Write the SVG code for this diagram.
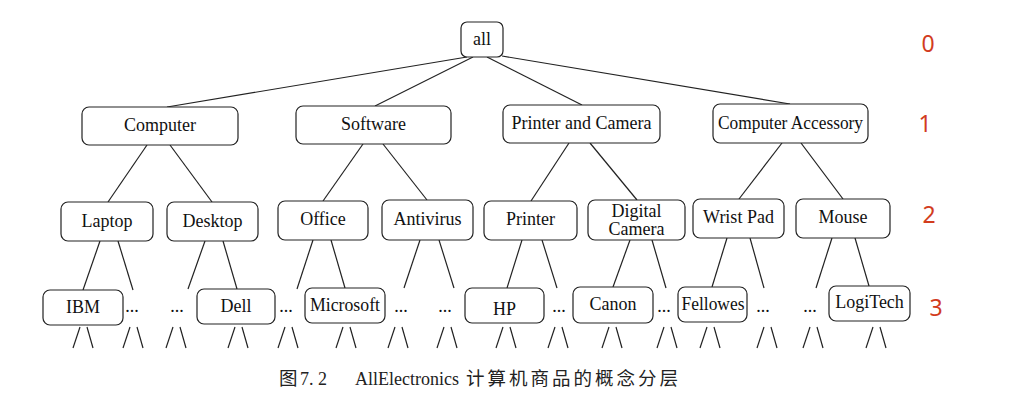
<svg xmlns="http://www.w3.org/2000/svg" width="1034" height="404" viewBox="0 0 1034 404">
<style>
.box{fill:#fff;stroke:#222;stroke-width:1.2}
.lbl{font-family:"Liberation Serif","Times New Roman",serif;font-size:18px;fill:#111;text-anchor:middle}
.dots{font-family:"Liberation Serif","Times New Roman",serif;font-size:18px;fill:#111;text-anchor:middle}
.lvl{font-family:"Noto Sans","Liberation Sans",sans-serif;font-size:23px;fill:#d23c1e;text-anchor:middle}
.cap{font-family:"Liberation Serif","Noto Sans CJK SC",serif;font-size:18px;fill:#222}
.cjk{font-family:"Noto Sans CJK SC",sans-serif;font-size:18.5px;letter-spacing:3px}
#connectors line{stroke:#222;stroke-width:1.2;fill:none}
</style>
<rect width="1034" height="404" fill="#fff"/>
<g id="connectors">
<line x1="467" y1="57" x2="167" y2="107"/>
<line x1="473" y1="57" x2="375" y2="106"/>
<line x1="487" y1="57" x2="582" y2="105"/>
<line x1="502" y1="56" x2="790" y2="104"/>
<line x1="147" y1="145" x2="108" y2="202"/>
<line x1="170" y1="145" x2="212" y2="202"/>
<line x1="363" y1="144" x2="323" y2="201"/>
<line x1="383" y1="144" x2="427" y2="200"/>
<line x1="569" y1="143" x2="531" y2="201"/>
<line x1="590" y1="143" x2="637" y2="200"/>
<line x1="782" y1="143" x2="739" y2="199"/>
<line x1="801" y1="143" x2="843" y2="199"/>
<line x1="100" y1="241" x2="83" y2="290"/>
<line x1="118" y1="241" x2="133" y2="290"/>
<line x1="205" y1="241" x2="188" y2="289"/>
<line x1="223" y1="241" x2="237" y2="289"/>
<line x1="313" y1="240" x2="297" y2="289"/>
<line x1="331" y1="240" x2="345" y2="288"/>
<line x1="420" y1="240" x2="404" y2="288"/>
<line x1="439" y1="240" x2="454" y2="288"/>
<line x1="522" y1="240" x2="507" y2="288"/>
<line x1="542" y1="240" x2="557" y2="288"/>
<line x1="630" y1="240" x2="613" y2="287"/>
<line x1="652" y1="240" x2="666" y2="288"/>
<line x1="727" y1="238" x2="712" y2="287"/>
<line x1="750" y1="238" x2="764" y2="288"/>
<line x1="832" y1="238" x2="816" y2="288"/>
<line x1="855" y1="238" x2="869" y2="286"/>
<line x1="80" y1="327" x2="73" y2="348"/><line x1="87" y1="327" x2="93" y2="348"/>
<line x1="130" y1="327" x2="123" y2="348"/><line x1="137" y1="327" x2="143" y2="348"/>
<line x1="173" y1="327" x2="166" y2="348"/><line x1="180" y1="327" x2="186" y2="348"/>
<line x1="235" y1="327" x2="228" y2="348"/><line x1="242" y1="327" x2="248" y2="348"/>
<line x1="285" y1="327" x2="278" y2="348"/><line x1="292" y1="327" x2="298" y2="348"/>
<line x1="343" y1="327" x2="336" y2="348"/><line x1="350" y1="327" x2="356" y2="348"/>
<line x1="395" y1="327" x2="388" y2="348"/><line x1="402" y1="327" x2="408" y2="348"/>
<line x1="444" y1="327" x2="437" y2="348"/><line x1="451" y1="327" x2="457" y2="348"/>
<line x1="503" y1="327" x2="496" y2="348"/><line x1="510" y1="327" x2="516" y2="348"/>
<line x1="555" y1="327" x2="548" y2="348"/><line x1="562" y1="327" x2="568" y2="348"/>
<line x1="609" y1="327" x2="602" y2="348"/><line x1="616" y1="327" x2="622" y2="348"/>
<line x1="664" y1="327" x2="657" y2="348"/><line x1="671" y1="327" x2="677" y2="348"/>
<line x1="707" y1="327" x2="700" y2="348"/><line x1="714" y1="327" x2="720" y2="348"/>
<line x1="764" y1="327" x2="757" y2="348"/><line x1="771" y1="327" x2="777" y2="348"/>
<line x1="810" y1="327" x2="803" y2="348"/><line x1="817" y1="327" x2="823" y2="348"/>
<line x1="873" y1="327" x2="866" y2="348"/><line x1="880" y1="327" x2="886" y2="348"/>
</g>
<g id="n-all"><rect class="box" x="461" y="22" width="42" height="35" rx="6"/><text class="lbl" x="482" y="45">all</text></g>
<g id="n-computer"><rect class="box" x="82" y="107" width="156" height="38" rx="7"/><text class="lbl" x="160" y="131">Computer</text></g>
<g id="n-software"><rect class="box" x="296" y="106" width="155" height="38" rx="7"/><text class="lbl" x="373.5" y="130">Software</text></g>
<g id="n-printer-camera"><rect class="box" x="503" y="105" width="157" height="38" rx="7"/><text class="lbl" x="581.5" y="129">Printer and Camera</text></g>
<g id="n-computer-accessory"><rect class="box" x="713" y="104" width="155" height="39" rx="7"/><text class="lbl" x="790.5" y="129" textLength="145" lengthAdjust="spacingAndGlyphs">Computer Accessory</text></g>
<g id="n-laptop"><rect class="box" x="61" y="202" width="92" height="39" rx="7"/><text class="lbl" x="107" y="227">Laptop</text></g>
<g id="n-desktop"><rect class="box" x="167" y="202" width="91" height="39" rx="7"/><text class="lbl" x="212.5" y="227">Desktop</text></g>
<g id="n-office"><rect class="box" x="278" y="201" width="90" height="39" rx="7"/><text class="lbl" x="323" y="225">Office</text></g>
<g id="n-antivirus"><rect class="box" x="382" y="200" width="91" height="40" rx="7"/><text class="lbl" x="427.5" y="225">Antivirus</text></g>
<g id="n-printer"><rect class="box" x="484" y="201" width="93" height="39" rx="7"/><text class="lbl" x="530.5" y="225">Printer</text></g>
<g id="n-digital-camera"><rect class="box" x="588" y="200" width="97" height="40" rx="7"/><text class="lbl" x="636.5" y="217">Digital</text><text class="lbl" x="636.5" y="235">Camera</text></g>
<g id="n-wrist-pad"><rect class="box" x="693" y="199" width="91" height="39" rx="7"/><text class="lbl" x="738.5" y="223">Wrist Pad</text></g>
<g id="n-mouse"><rect class="box" x="796" y="199" width="94" height="39" rx="7"/><text class="lbl" x="843" y="223">Mouse</text></g>
<g id="n-ibm"><rect class="box" x="43" y="290" width="80" height="35" rx="7"/><text class="lbl" x="83" y="313">IBM</text></g>
<g id="n-dell"><rect class="box" x="197" y="289" width="78" height="35" rx="7"/><text class="lbl" x="236" y="312">Dell</text></g>
<g id="n-microsoft"><rect class="box" x="305" y="288" width="80" height="35" rx="7"/><text class="lbl" x="345" y="311" textLength="70" lengthAdjust="spacingAndGlyphs">Microsoft</text></g>
<g id="n-hp"><rect class="box" x="465" y="288" width="79" height="35" rx="7"/><text class="lbl" x="504.5" y="315">HP</text></g>
<g id="n-canon"><rect class="box" x="573" y="287" width="80" height="36" rx="7"/><text class="lbl" x="613" y="310">Canon</text></g>
<g id="n-fellowes"><rect class="box" x="678" y="287" width="69" height="35" rx="7"/><text class="lbl" x="713" y="310" textLength="63" lengthAdjust="spacingAndGlyphs">Fellowes</text></g>
<g id="n-logitech"><rect class="box" x="829" y="286" width="81" height="35" rx="7"/><text class="lbl" x="869.5" y="308">LogiTech</text></g>
<g id="ellipses">
<text class="dots" x="132" y="312">...</text>
<text class="dots" x="177" y="312">...</text>
<text class="dots" x="286" y="312">...</text>
<text class="dots" x="401" y="312">...</text>
<text class="dots" x="445" y="312">...</text>
<text class="dots" x="559" y="312">...</text>
<text class="dots" x="664" y="312">...</text>
<text class="dots" x="763" y="312">...</text>
<text class="dots" x="810" y="312">...</text>
</g>
<g id="levels">
<text class="lvl" x="928" y="52">0</text>
<text class="lvl" x="925" y="132">1</text>
<text class="lvl" x="929" y="223">2</text>
<text class="lvl" x="936" y="316">3</text>
</g>
<text id="caption" class="cap" y="385"><tspan class="cjk" x="279">图</tspan><tspan x="300">7. 2</tspan><tspan x="355">AllElectronics</tspan><tspan class="cjk" x="466">计算机商品的概念分层</tspan></text>
</svg>
